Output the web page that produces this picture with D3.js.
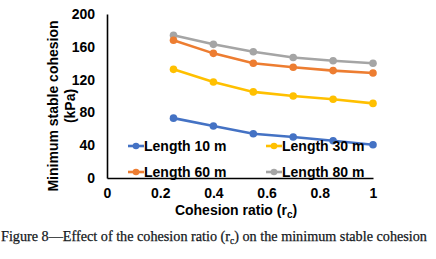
<!DOCTYPE html>
<html><head><meta charset="utf-8">
<script src="https://cdn.jsdelivr.net/npm/d3@7/dist/d3.min.js"></script>
<style>body{margin:0;background:#fff}svg{display:block}</style>
</head><body>
<svg id="c" width="436" height="259"></svg>
<script>
const ratios = [0.25, 0.4, 0.55, 0.7, 0.85, 1.0];
const len10 = [73, 63.5, 54, 50, 45.5, 40.5];
const len30 = [132.5, 117, 105, 100, 96, 91];
const len60 = [168, 152, 140, 135, 131, 128];
const len80 = [174, 163, 154, 147, 143, 140];
const seriesNames = ["Length 10 m", "Length 30 m", "Length 60 m", "Length 80 m"];
const seriesColors = ["#4472C4", "#FFC000", "#ED7D31", "#A5A5A5"];
const xTicks = [0, 0.2, 0.4, 0.6, 0.8, 1];
const yTicks = [0, 40, 80, 120, 160, 200];

const svg = d3.select("#c");
const x = d3.scaleLinear().domain([0, 1]).range([107, 373]);
const y = d3.scaleLinear().domain([0, 200]).range([178, 14]);
const font = "Liberation Sans, Arial, sans-serif";

// axes
const yAxis = svg.append("g").attr("transform", "translate(107,0)")
  .call(d3.axisLeft(y).tickValues(yTicks).tickSize(0).tickPadding(12));
yAxis.select(".domain").attr("stroke", "#000").attr("stroke-width", 1.6);
yAxis.selectAll("text").attr("font-family", font).attr("font-weight", "bold").attr("font-size", 14).attr("fill", "#000");

const xAxis = svg.append("g").attr("transform", "translate(0,178)")
  .call(d3.axisBottom(x).tickValues(xTicks).tickSize(0).tickPadding(10).tickFormat(d3.format("")));
xAxis.select(".domain").attr("stroke", "#000").attr("stroke-width", 1.6);
xAxis.selectAll("text").attr("font-family", font).attr("font-weight", "bold").attr("font-size", 14).attr("fill", "#000");

// series
const allSeries = [len10, len30, len60, len80];
const line = d3.line().x((d, i) => x(ratios[i])).y(d => y(d));
const drawOrder = [3, 2, 1, 0];
drawOrder.forEach(k => {
  const vals = allSeries[k];
  svg.append("path").datum(vals).attr("d", line).attr("fill", "none")
    .attr("stroke", seriesColors[k]).attr("stroke-width", 2.6);
  svg.append("g").selectAll("circle").data(vals).join("circle")
    .attr("cx", (d, i) => x(ratios[i])).attr("cy", d => y(d)).attr("r", 3.8)
    .attr("fill", seriesColors[k]);
});

// legend
const legPos = [[128, 146], [266, 146], [128, 172], [266, 172]];
seriesNames.forEach((n, k) => {
  const [lx, ly] = legPos[k];
  svg.append("line").attr("x1", lx).attr("x2", lx + 16).attr("y1", ly).attr("y2", ly)
    .attr("stroke", seriesColors[k]).attr("stroke-width", 2.6);
  svg.append("circle").attr("cx", lx + 8).attr("cy", ly).attr("r", 3.3).attr("fill", seriesColors[k]);
  svg.append("text").attr("x", lx + 16).attr("y", ly + 5).text(n)
    .attr("font-family", font).attr("font-weight", "bold").attr("font-size", 14).attr("fill", "#000");
});

// y title
const yt = svg.append("text").attr("transform", "translate(58,106) rotate(-90)")
  .attr("text-anchor", "middle").attr("font-family", font).attr("font-weight", "bold").attr("font-size", 14);
yt.append("tspan").attr("x", 0).attr("dy", 0).text("Minimum stable cohesion");
yt.append("tspan").attr("x", 0).attr("dy", 17).text("(kPa)");

// x title
const xt = svg.append("text").attr("x", 236).attr("y", 215).attr("text-anchor", "middle")
  .attr("font-family", font).attr("font-weight", "bold").attr("font-size", 14);
xt.append("tspan").text("Cohesion ratio (r");
xt.append("tspan").attr("font-size", 10).attr("dy", 3).text("c");
xt.append("tspan").attr("dy", -3).text(")");

// caption
const cap = svg.append("text").attr("x", 1).attr("y", 241)
  .attr("font-family", "Liberation Serif, Times New Roman, serif").attr("font-size", 14.2)
  .attr("fill", "#141821").attr("stroke", "#141821").attr("stroke-width", 0.25);
cap.append("tspan").text("Figure 8\u2014Effect of the cohesion ratio (r");
cap.append("tspan").attr("font-size", 9.5).attr("dy", 3).text("c");
cap.append("tspan").attr("dy", -3).text(") on the minimum stable cohesion");
</script>
</body></html>
